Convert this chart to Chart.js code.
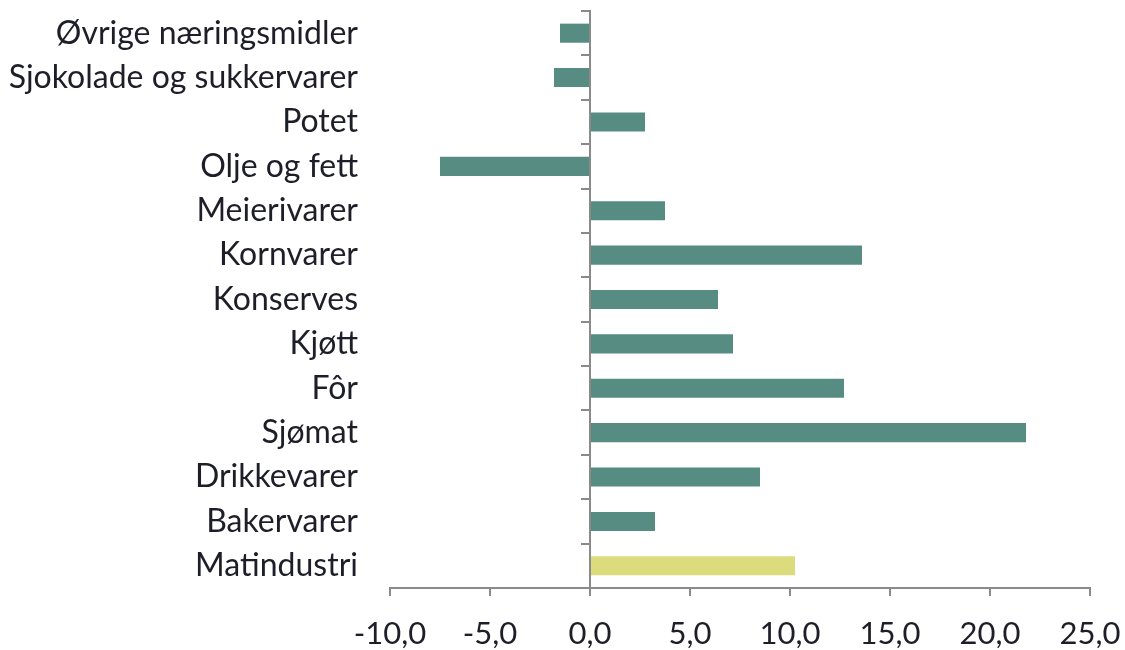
<!DOCTYPE html>
<html>
<head>
<meta charset="utf-8">
<script src="https://cdn.jsdelivr.net/npm/chart.js@4"></script>
<style>
  html, body { margin: 0; padding: 0; background: #fff; }
  #wrap { width: 1125px; height: 650px; }
</style>
</head>
<body>
<div id="wrap"><canvas id="chart"></canvas></div>
<script>
// ── Data ──
const categories = [
  'Øvrige næringsmidler', 'Sjokolade og sukkervarer', 'Potet', 'Olje og fett',
  'Meierivarer', 'Kornvarer', 'Konserves', 'Kjøtt', 'Fôr', 'Sjømat',
  'Drikkevarer', 'Bakervarer', 'Matindustri'
];
const values = [-1.5, -1.8, 2.75, -7.5, 3.75, 13.6, 6.4, 7.15, 12.7, 21.8, 8.5, 3.25, 10.25];
const xTicks = [-10, -5, 0, 5, 10, 15, 20, 25];

const TEAL = '#578c83';
const YELLOW = '#dcdc7c';
const AXIS = '#8a8a8a';
const FONT = 'Lato';

const barColors = categories.map(c => c === 'Matindustri' ? YELLOW : TEAL);

Chart.defaults.font.family = FONT;
Chart.defaults.color = '#1e1e28';

// y axes: drop the label padding so the plot starts at the top
const noPad = (scale) => { scale.paddingTop = 0; scale.paddingBottom = 0; };

new Chart(document.getElementById('chart'), {
  type: 'bar',
  data: {
    labels: categories,
    datasets: [{
      data: values,
      backgroundColor: barColors,
      borderWidth: 0,
      categoryPercentage: 1,
      barPercentage: 0.43,
    }],
  },
  options: {
    indexAxis: 'y',
    responsive: true,
    maintainAspectRatio: false,
    animation: false,
    layout: { padding: { top: 11, right: 0, bottom: 0, left: 0 } },
    plugins: { legend: { display: false }, tooltip: { enabled: false } },
    scales: {
      x: {
        min: -10,
        max: 25,
        afterBuildTicks: (scale) => { scale.ticks = xTicks.map(v => ({ value: v })); },
        afterFit: (scale) => {
          scale.height = 62;
          scale.paddingLeft = 0;
          scale.paddingRight = 35;
        },
        border: { display: true, color: AXIS, width: 2 },
        grid: { drawOnChartArea: false, drawTicks: true, tickLength: 8, color: AXIS, lineWidth: 2 },
        ticks: {
          font: { size: 31 },
          padding: 19,
          callback: v => v.toFixed(1).replace('.', ','),
        },
      },
      y: {
        afterFit: (scale) => { scale.width = 390; noPad(scale); },
        border: { display: false },
        grid: { display: false, drawTicks: false },
        ticks: { font: { size: 32 }, padding: 32 },
      },
      yZero: {
        type: 'category',
        axis: 'y',
        position: { x: 0 },
        offset: true,
        afterFit: noPad,
        border: { display: true, color: AXIS, width: 2 },
        grid: { drawOnChartArea: false, drawTicks: true, tickLength: 8, color: AXIS, lineWidth: 2, offset: true },
        ticks: { display: false },
      },
    },
  },
});
</script>
</body>
</html>
